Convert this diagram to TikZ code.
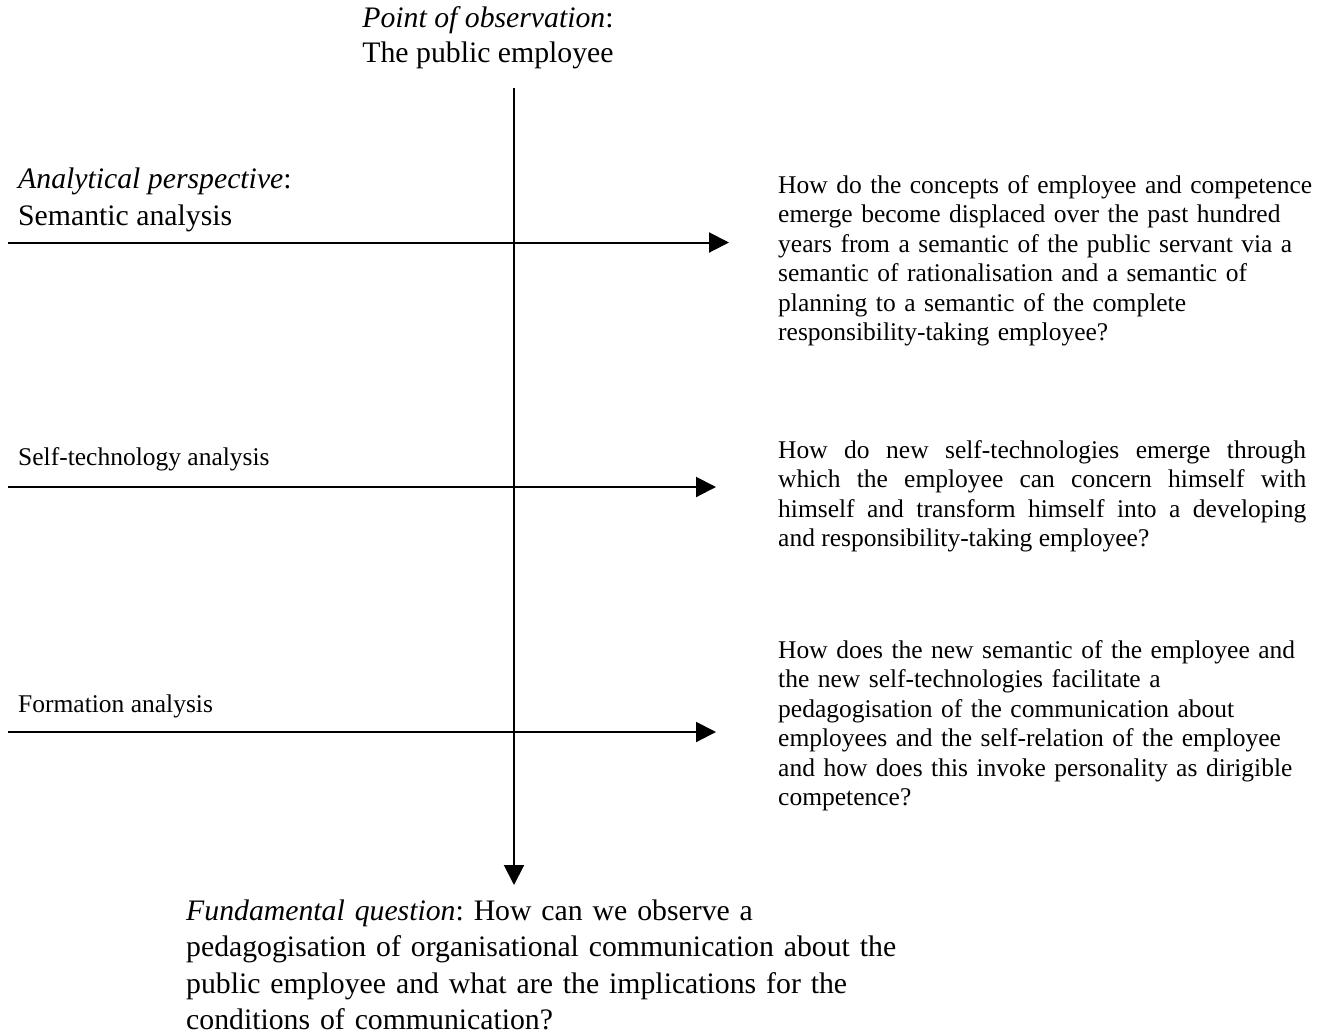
\documentclass[tikz,border=0pt]{standalone}
\usepackage{fontspec}
\setmainfont{Liberation Serif}
\usetikzlibrary{arrows.meta}
\hyphenpenalty=10000
\exhyphenpenalty=10000
\frenchspacing
\begin{document}
\begin{tikzpicture}[x=1pt,y=-1pt,
  conn/.style={line width=2pt, -{Triangle[length=20pt,width=20pt]}},
  big/.style={font=\fontsize{29.75}{35}\selectfont, inner sep=0pt},
  small/.style={font=\fontsize{25.5}{29.5}\selectfont, inner sep=0pt},
  para/.style={small, text width=600pt, align=left, anchor=base west}
]
\useasboundingbox (0,0) rectangle (1324,1034);
\fill[white] (0,0) rectangle (1324,1034);

% top label (base anchor = last line)
\node[big, anchor=base, align=center] (top) at (488,62) {\textit{Point of observation}:\\The public employee};

% left labels
\node[big, anchor=base west, align=left, font=\fontsize{29.75}{37}\selectfont] (ana) at (18,225) {\textit{Analytical perspective}:\\Semantic analysis};
\node[small, anchor=base west] (self) at (18,465) {Self-technology analysis};
\node[small, anchor=base west] (form) at (18,712) {Formation analysis};

% right questions (text width nodes: base = first line)
\node[para] (q1) at (778,193) {How do the concepts of employee and competence\\
emerge become displaced over the past hundred\\
years from a semantic of the public servant via a\\
semantic of rationalisation and a semantic of\\
planning to a semantic of the complete\\
responsibility-taking employee?};
\node[small, text width=528pt, align=justify, anchor=base west] (q2) at (778,458) {How do new self-technologies emerge through\linebreak
which the employee can concern himself with\linebreak
himself and transform himself into a developing\linebreak
and responsibility-taking employee?};
\node[para] (q3) at (778,658) {How does the new semantic of the employee and\\
the new self-technologies facilitate a\\
pedagogisation of the communication about\\
employees and the self-relation of the employee\\
and how does this invoke personality as dirigible\\
competence?};

% bottom question
\node[big, anchor=base west, text width=800pt, align=left, font=\fontsize{29.75}{36.5}\selectfont] (fq) at (186,920) {\textit{Fundamental question}: How can we observe a\\
pedagogisation of organisational communication about the\\
public employee and what are the implications for the\\
conditions of communication?};

% connectors
\coordinate (vs) at (514,88);
\coordinate (ve) at (514,885);
\coordinate (a1s) at (8,242.5);
\coordinate (a1e) at (729,242.5);
\coordinate (a2s) at (8,487);
\coordinate (a2e) at (716,487);
\coordinate (a3s) at (8,732);
\coordinate (a3e) at (716,732);
\draw[conn] (vs) -- (ve);
\draw[conn] (a1s) -- (a1e);
\draw[conn] (a2s) -- (a2e);
\draw[conn] (a3s) -- (a3e);
\end{tikzpicture}
\end{document}
